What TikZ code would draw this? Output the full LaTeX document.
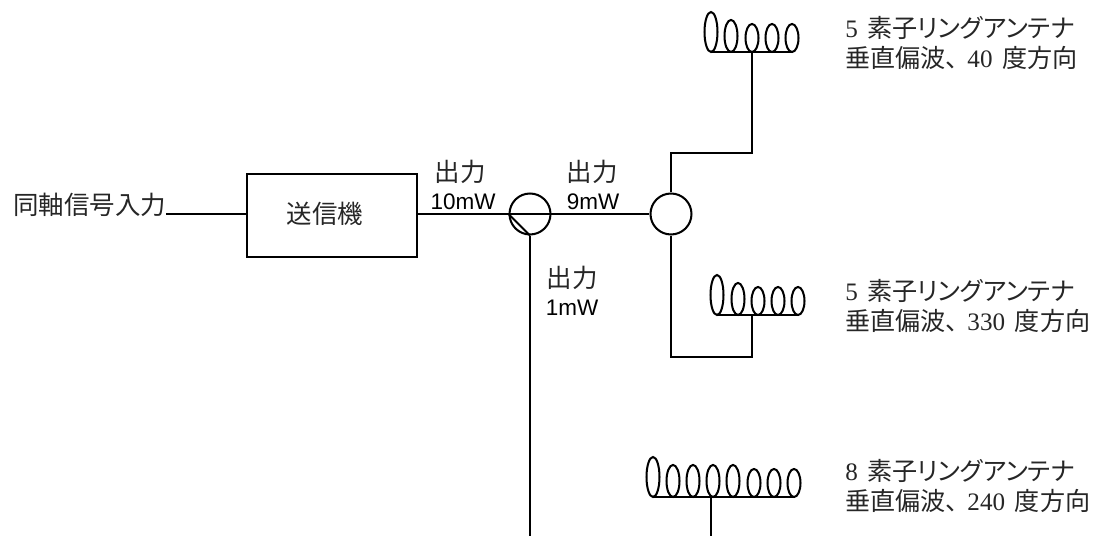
\documentclass[tikz,border=0pt]{standalone}
\usepackage{fontspec}
\setmainfont{Liberation Serif}
\newfontfamily\cjk{Noto Sans CJK JP}
\newfontfamily\antname{Noto Sans CJK JP}[RawFeature=+palt]
\newfontfamily\arial{Liberation Sans}
\tikzset{
    wire/.style={line width=1.15pt, black},
    coil/.style={line width=1.15pt, black},
    junction/.style={circle, draw, line width=1.15pt, minimum size=0.82cm, inner sep=0pt},
    txbox/.style={rectangle, draw, line width=1.15pt, minimum width=3.4cm, minimum height=1.66cm, inner sep=0pt},
    jptext/.style={inner sep=0pt, font=\fontsize{14.5pt}{17pt}\selectfont\cjk, text=black!85},
    anttext/.style={inner sep=0pt, anchor=west, align=left, font=\fontsize{14.3pt}{17.6pt}\selectfont, text=black!85},
    mwtext/.style={inner sep=0pt, font=\fontsize{12.8pt}{14pt}\selectfont\arial}
}
\begin{document}
\begin{tikzpicture}[x=0.02cm, y=-0.02cm]
    \useasboundingbox (0,0) rectangle (1100,536);

    % Input and transmitter
    \node[jptext, anchor=west] (input) at (13,205) {同軸信号入力};
    \coordinate (inputend) at (166,214);
    \node[txbox] (tx) at (332,215.5) {};
    \node[jptext] (txname) at (325,214) {送信機};
    \draw[wire] (inputend) -- (tx.west |- inputend);

    % Couplers
    \node[junction] (split) at (530,214) {};
    \node[junction] (divider) at (671,214) {};
    \draw[wire] (tx.east |- split) -- (split.west);
    \draw[wire] (split.west) -- (split.east);
    \draw[wire] (split.east) -- (divider.west);
    \draw[wire] (split.west) -- (split.south);

    % Power labels
    \node[jptext] (p1) at (460,172) {出力};
    \node[mwtext] (p1val) at (463,202) {10mW};
    \node[jptext] (p2) at (592,172) {出力};
    \node[mwtext] (p2val) at (593,202) {9mW};
    \node[jptext] (p3) at (572,278) {出力};
    \node[mwtext] (p3val) at (572,308) {1mW};

    % Antenna A
    \foreach \x/\ry in {711/20, 731/16, 752/14, 772/14, 792/14}
        \draw[coil] (\x,52-\ry) ellipse (6.5 and \ry);
    \coordinate (antA) at (752,52);
    \coordinate (bendA) at (671,153);
    \draw[wire] (711,52) -- (792,52);
    \draw[wire] (divider.north) -- (bendA) -| (antA);
    \node[anttext] (labelA) at (845,43) {5\kern5.3pt{\antname 素子リングアンテナ}\\{\cjk 垂直偏波、}\kern-2pt 40\kern5.6pt{\cjk 度方向}};

    % Antenna B
    \foreach \x/\ry in {717/20, 738/16, 758/14, 778/14, 798/14}
        \draw[coil] (\x,315-\ry) ellipse (6.5 and \ry);
    \coordinate (antB) at (752,315);
    \coordinate (bendB) at (671,357);
    \draw[wire] (717,315) -- (798,315);
    \draw[wire] (divider.south) -- (bendB) -| (antB);
    \node[anttext] (labelB) at (845,306) {5\kern5.3pt{\antname 素子リングアンテナ}\\{\cjk 垂直偏波、}\kern-2pt 330\kern5.6pt{\cjk 度方向}};

    % Antenna C
    \foreach \x/\ry in {653/20, 673/16, 693/16, 713/16, 733/16, 754/14, 774/14, 794/14}
        \draw[coil] (\x,497-\ry) ellipse (6.5 and \ry);
    \coordinate (antC) at (711,497);
    \coordinate (feedC) at (711,536);
    \coordinate (feedD) at (530,536);
    \draw[wire] (653,497) -- (794,497);
    \draw[wire] (antC) -- (feedC);
    \draw[wire] (split.south) -- (feedD);
    \node[anttext] (labelC) at (845,486) {8\kern5.3pt{\antname 素子リングアンテナ}\\{\cjk 垂直偏波、}\kern-2pt 240\kern5.6pt{\cjk 度方向}};
\end{tikzpicture}
\end{document}
